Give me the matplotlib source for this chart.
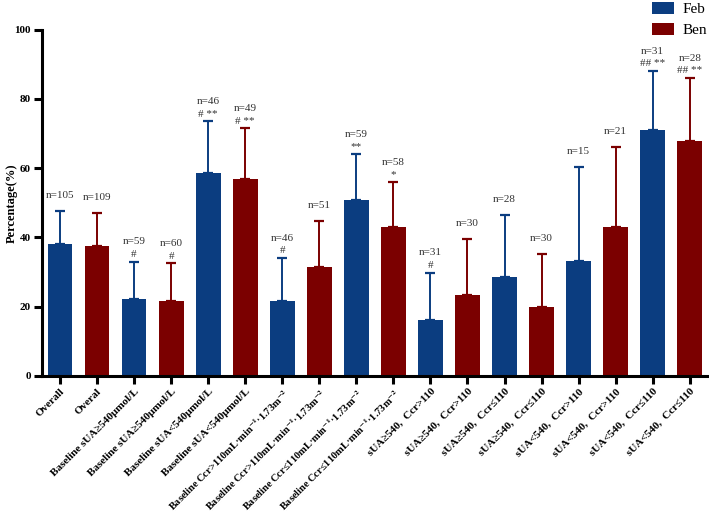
import matplotlib
matplotlib.use("Agg")
import matplotlib.pyplot as plt
from matplotlib.patches import Patch
import numpy as np

plt.rcParams["font.family"] = ["Liberation Serif", "DejaVu Serif"]
plt.rcParams["mathtext.fontset"] = "stix"
plt.rcParams["mathtext.default"] = "bf"

# ---------------------------------------------------------------------------
# Data
# ---------------------------------------------------------------------------
labels = [
    "Overall", "Overal",
    "Baseline sUA≥540μmol/L", "Baseline sUA≥540μmol/L",
    "Baseline sUA<540μmol/L", "Baseline sUA<540μmol/L",
    "Baseline Ccr>110mL·min$^{-1}$·1.73m$^{-2}$", "Baseline Ccr>110mL·min$^{-1}$·1.73m$^{-2}$",
    "Baseline Ccr≤110mL·min$^{-1}$·1.73m$^{-2}$", "Baseline Ccr≤110mL·min$^{-1}$·1.73m$^{-2}$",
    "sUA≥540,  Ccr>110", "sUA≥540,  Ccr>110",
    "sUA≥540,  Ccr≤110", "sUA≥540,  Ccr≤110",
    "sUA<540,  Ccr>110", "sUA<540,  Ccr>110",
    "sUA<540,  Ccr≤110", "sUA<540,  Ccr≤110",
]
groups = ["Feb", "Ben"] * 9
values = [38.0, 37.5, 22.3, 21.7, 58.6, 57.0, 21.7, 31.4, 50.8,
          43.1, 16.1, 23.3, 28.6, 20.0, 33.3, 42.9, 71.0, 67.9]
upper = [47.5, 47.0, 33.0, 32.5, 73.5, 71.5, 34.0, 44.6, 64.0,
         56.0, 29.8, 39.5, 46.4, 35.2, 60.4, 66.0, 88.0, 86.0]
n_vals = [105, 109, 59, 60, 46, 49, 46, 51, 59, 58, 31, 30, 28, 30, 15, 21, 31, 28]
marks = ["", "", "#", "#", "# **", "# **", "#", "", "**", "*",
         "#", "", "", "", "", "", "## **", "## **"]

colors = {"Feb": "#0b3d80", "Ben": "#7b0000"}

# ---------------------------------------------------------------------------
# Plot
# ---------------------------------------------------------------------------
fig = plt.figure(figsize=(7.09, 5.12), dpi=100)
ax = fig.add_axes([0.059, 0.266, 0.94, 0.676])

x = np.arange(len(values))
bar_cols = [colors[g] for g in groups]
ax.bar(x, values, width=0.67, color=bar_cols, zorder=2)
for xi, v, u, c in zip(x, values, upper, bar_cols):
    ax.errorbar(xi, v, yerr=[[0], [u - v]], color=c, lw=1.4,
                capsize=3.5, capthick=1.6, zorder=1)

for xi, u, n, m in zip(x, upper, n_vals, marks):
    if m:
        ax.annotate(m, (xi, u), xytext=(0, 2), textcoords="offset points",
                    ha="center", va="bottom", fontsize=8, color="#333333")
        ax.annotate(f"n={n}", (xi, u), xytext=(0, 11), textcoords="offset points",
                    ha="center", va="bottom", fontsize=8, color="#333333")
    else:
        ax.annotate(f"n={n}", (xi, u), xytext=(0, 8), textcoords="offset points",
                    ha="center", va="bottom", fontsize=8, color="#333333")

ax.set_xlim(-0.49, 17.5)
ax.set_ylim(0, 100)
ax.set_yticks([0, 20, 40, 60, 80, 100])
ax.set_xticks(x)
ax.set_xticklabels(labels, rotation=45, ha="right", rotation_mode="anchor",
                   fontsize=8, fontweight="bold")
for t in ax.get_xticklabels():
    if "Ccr" in t.get_text() and "Baseline" in t.get_text():
        t.set_fontsize(7.5)
for t in ax.get_yticklabels():
    t.set_fontweight("bold")
    t.set_fontsize(8)
ax.set_ylabel("Percentage(%)", fontsize=9, fontweight="bold")
ax.yaxis.set_label_coords(-0.036, 0.5)

for s in ["top", "right"]:
    ax.spines[s].set_visible(False)
for s in ["left", "bottom"]:
    ax.spines[s].set_linewidth(2.2)
ax.tick_params(axis="both", width=2.2, length=6, pad=2)

handles = [Patch(facecolor=colors["Feb"], label="Feb"),
           Patch(facecolor=colors["Ben"], label="Ben")]
fig.legend(handles=handles, loc="upper left", bbox_to_anchor=(650 / 709, 1.0),
           frameon=False, fontsize=11, handlelength=1.45, handleheight=0.85,
           labelspacing=0.45, handletextpad=0.55, borderpad=0.1,
           borderaxespad=0)

fig.savefig("out.png", dpi=100)
